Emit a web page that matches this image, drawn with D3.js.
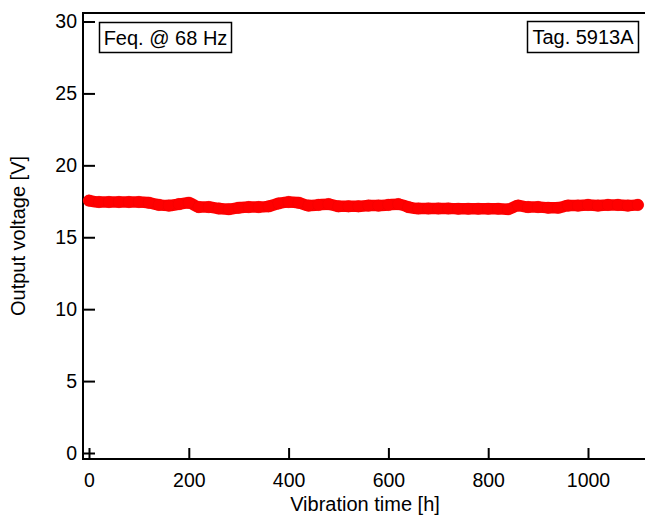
<!DOCTYPE html>
<html>
<head>
<meta charset="utf-8">
<script src="https://cdn.jsdelivr.net/npm/d3@7"></script>
<style>
html,body{margin:0;padding:0;background:#fff;}
svg{display:block;font-family:"Liberation Sans",Arial,Helvetica,sans-serif;}
</style>
</head>
<body>
<svg id="chart" width="645" height="515"></svg>
<script>
// Data
const timeHours = [0,20,40,60,80,100,120,140,160,180,200,220,240,260,280,300,320,340,360,380,400,420,440,460,480,500,520,540,560,580,600,620,640,660,680,700,720,740,760,780,800,820,840,860,880,900,920,940,960,980,1000,1020,1040,1060,1080,1100];
const voltage = [17.55,17.45,17.45,17.45,17.45,17.45,17.4,17.25,17.2,17.3,17.4,17.1,17.1,17.0,16.95,17.05,17.1,17.1,17.15,17.35,17.45,17.4,17.2,17.25,17.3,17.15,17.15,17.15,17.2,17.2,17.25,17.3,17.1,17.0,17.0,17.0,17.0,16.98,16.98,16.98,16.98,16.98,16.95,17.2,17.1,17.1,17.05,17.05,17.2,17.2,17.25,17.2,17.25,17.25,17.2,17.25];
const xTicks = [0,200,400,600,800,1000];
const yTicks = [0,5,10,15,20,25,30];
const xTitle = "Vibration time [h]";
const yTitle = "Output voltage [V]";
const annLeft = "Feq. @ 68 Hz";
const annRight = "Tag. 5913A";

const svg = d3.select("#chart");
const x = d3.scaleLinear().domain([0,1000]).range([89,588]);
const y = d3.scaleLinear().domain([0,30]).range([453,21.5]);

const pLeft = 83, pTop = 13, pBottom = 459, pRight = 660;

// frame (top + left + bottom)
svg.append("path")
  .attr("d", `M${pRight},${pTop}H${pLeft}V${pBottom}H${pRight}`)
  .attr("fill","none").attr("stroke","#000").attr("stroke-width",2);

// y axis
const yAxis = d3.axisLeft(y).tickValues(yTicks).tickSizeInner(-12).tickSizeOuter(0).tickPadding(6).tickFormat(d3.format("d"));
const gy = svg.append("g").attr("transform",`translate(${pLeft},0)`).call(yAxis);
gy.select(".domain").remove();
gy.selectAll("line").attr("stroke","#000").attr("stroke-width",2);
gy.selectAll("text").attr("font-size",19.5).attr("fill","#000");

// x axis
const xAxis = d3.axisBottom(x).tickValues(xTicks).tickSizeInner(-11).tickSizeOuter(0).tickPadding(14).tickFormat(d3.format("d"));
const gx = svg.append("g").attr("transform",`translate(0,${pBottom})`).call(xAxis);
gx.select(".domain").remove();
gx.selectAll("line").attr("stroke","#000").attr("stroke-width",2);
gx.selectAll("text").attr("font-size",19.5).attr("fill","#000");

// titles
svg.append("text").attr("x",365).attr("y",511).attr("text-anchor","middle")
  .attr("font-size",20).text(xTitle);
svg.append("text").attr("transform","translate(25,236) rotate(-90)").attr("text-anchor","middle")
  .attr("font-size",20).text(yTitle);

// data
const pts = timeHours.map((t,i)=>[t,voltage[i]]);
const line = d3.line().x(d=>x(d[0])).y(d=>y(d[1])).curve(d3.curveMonotoneX);
svg.append("path").datum(pts).attr("d",line)
  .attr("fill","none").attr("stroke","#ff0000").attr("stroke-width",11.5)
  .attr("stroke-linecap","round").attr("stroke-linejoin","round");
svg.append("g").selectAll("circle").data(pts).join("circle")
  .attr("cx",d=>x(d[0])).attr("cy",d=>y(d[1])).attr("r",5.8)
  .attr("fill","#ff0000").attr("stroke","#e80000").attr("stroke-width",0.6).attr("stroke-opacity",0.6);

// annotation boxes
function box(txt, xLeft, yTop, w, h){
  svg.append("rect").attr("x",xLeft).attr("y",yTop).attr("width",w).attr("height",h)
    .attr("fill","#fff").attr("stroke","#000").attr("stroke-width",1.5);
  svg.append("text").attr("x",xLeft+w/2).attr("y",yTop+h/2+7).attr("text-anchor","middle")
    .attr("font-size",20).text(txt);
}
box(annLeft, 99.5, 22.5, 132, 30);
box(annRight, 527.5, 21.5, 111, 31);
</script>
</body>
</html>
